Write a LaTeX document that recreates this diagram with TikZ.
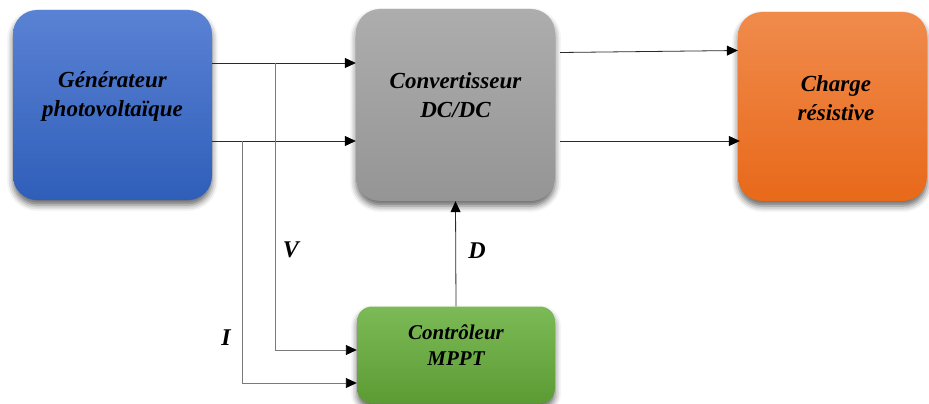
\documentclass[tikz,border=0pt]{standalone}
\usepackage{fontspec}
\setmainfont{Liberation Serif}
\usetikzlibrary{arrows.meta,shadows.blur}

\definecolor{blueTop}{HTML}{5A82D4}
\definecolor{blueBot}{HTML}{2F5EB9}
\definecolor{grayTop}{HTML}{ADADAD}
\definecolor{grayBot}{HTML}{959595}
\definecolor{orangeTop}{HTML}{F08B4C}
\definecolor{orangeBot}{HTML}{E8691A}
\definecolor{greenTop}{HTML}{7CBA57}
\definecolor{greenBot}{HTML}{5C9B34}
\definecolor{wireDark}{HTML}{2A2A2A}
\definecolor{wireGray}{HTML}{7A7A7A}

\tikzset{
  block/.style={draw=none, rectangle, rounded corners=24pt,
    blur shadow={shadow xshift=0pt, shadow yshift=-5pt, shadow blur radius=6pt, shadow opacity=60}},
  txt/.style={font=\fontsize{23}{29}\selectfont\bfseries\itshape, align=center, text=black},
  smalltxt/.style={font=\fontsize{21}{26}\selectfont\bfseries\itshape, align=center, text=black},
  lbl/.style={font=\fontsize{24}{26}\selectfont\bfseries\itshape, text=black},
  tip/.style={-{Triangle[length=11pt,width=10pt,color=black]}},
  wire/.style={draw=wireDark, line width=0.8pt, tip},
  fb/.style={draw=wireGray, line width=0.9pt, tip},
}

\begin{document}
\begin{tikzpicture}[x=1pt, y=-1pt]
\useasboundingbox (0,0) rectangle (929,404);

% blocks
\node[block, minimum width=199pt, minimum height=190pt,
      top color=blueTop, bottom color=blueBot] (gen) at (112.5,105) {};
\node[block, minimum width=199pt, minimum height=192pt,
      top color=grayTop, bottom color=grayBot] (conv) at (455.5,105) {};
\node[block, minimum width=189pt, minimum height=189pt,
      top color=orangeTop, bottom color=orangeBot] (load) at (832.5,106.5) {};
\node[block, rounded corners=15pt, minimum width=198pt, minimum height=97pt,
      top color=greenTop, bottom color=greenBot] (mppt) at (456,355) {};

% block captions
\node[txt] (genT) at (112.5,96) {Générateur\\photovoltaïque};
\node[txt] (convT) at (455.5,95) {Convertisseur\\DC/DC};
\node[txt] (loadT) at (836,98) {Charge\\résistive};
\node[smalltxt] (mpptT) at (456,345) {Contrôleur\\MPPT};

% power path
\draw[wire] ([yshift=42pt]gen.east) -- ([yshift=42pt]conv.west);
\draw[wire] ([yshift=-36pt]gen.east) -- ([yshift=-36pt]conv.west);
\draw[wire] ([shift={(5pt,52.5pt)}]conv.east) -- ([yshift=56pt]load.west);
\draw[wire] ([shift={(5pt,-36pt)}]conv.east) -- ([shift={(2pt,-34.5pt)}]load.west);

% measurement taps
\coordinate (vtap) at (275,63);
\coordinate (itap) at (242,141);
\draw[fb] (vtap) |- ([yshift=5pt]mppt.west);
\draw[fb] (itap) |- ([yshift=-28pt]mppt.west);

% duty cycle command
\draw[wire] (mppt.north) -- (conv.south);

% signal labels
\node[lbl] (vL) at (291,250) {V};
\node[lbl] (dL) at (477,251) {D};
\node[lbl] (iL) at (226,338) {I};
\end{tikzpicture}
\end{document}
